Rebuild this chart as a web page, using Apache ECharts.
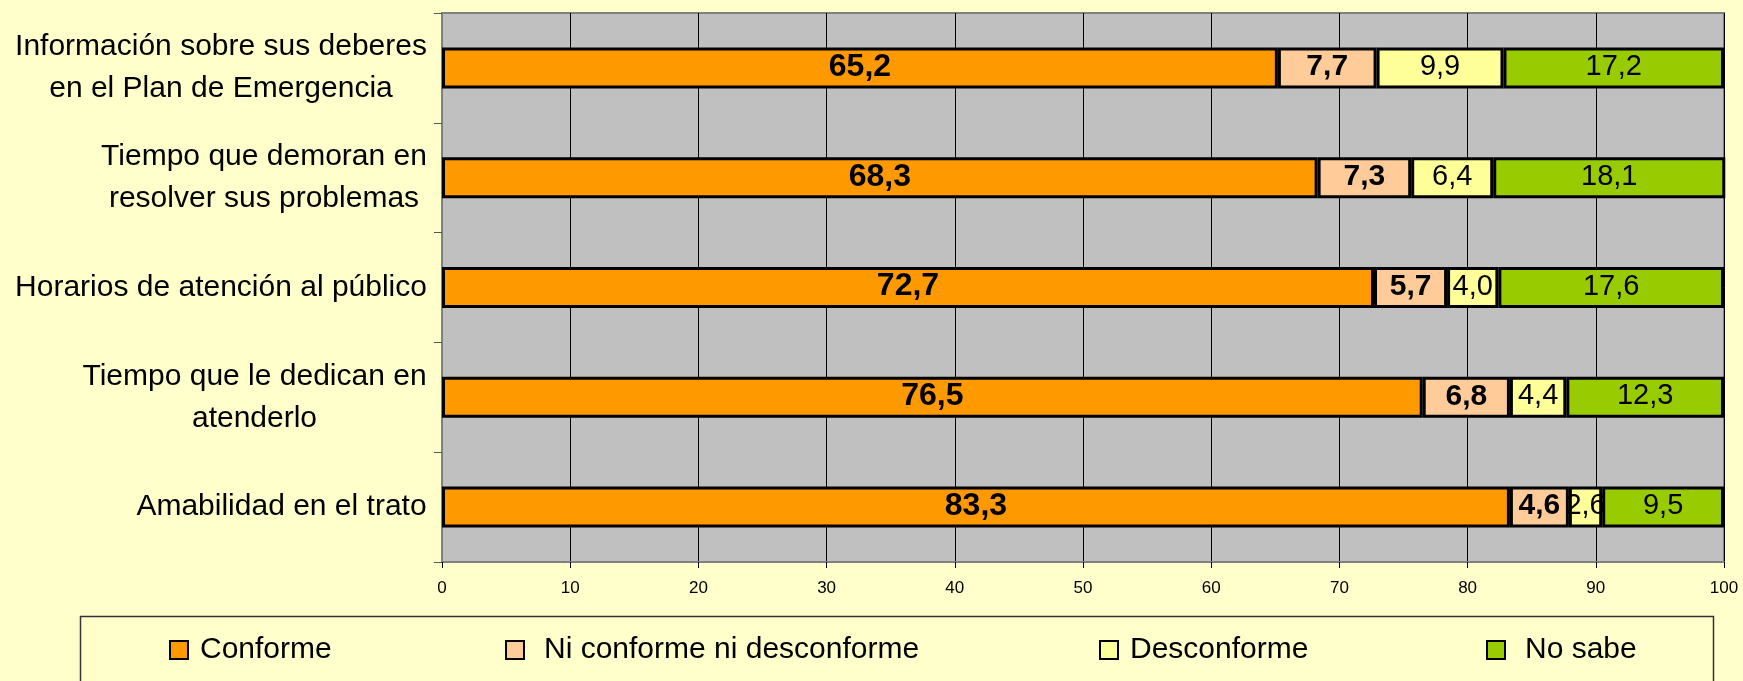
<!DOCTYPE html>
<html>
<head>
<meta charset="utf-8">
<script src="https://cdn.jsdelivr.net/npm/echarts@6/dist/echarts.min.js"></script>
<style>
  html, body { margin: 0; padding: 0; background: #FFFFCC; }
  #chart { width: 1743px; height: 681px; }
</style>
</head>
<body>
<div id="chart"></div>
<script>
// datos (de arriba hacia abajo)
var categorias = [
    'Información sobre sus deberes\nen el Plan de Emergencia',
    'Tiempo que demoran en\nresolver sus problemas',
    'Horarios de atención al público',
    'Tiempo que le dedican en\natenderlo',
    'Amabilidad en el trato'
];
var serieNombres = ['Conforme', 'Ni conforme ni desconforme', 'Desconforme', 'No sabe'];
var conforme      = [65.2, 68.3, 72.7, 76.5, 83.3];
var niConforme    = [7.7, 7.3, 5.7, 6.8, 4.6];
var desconforme   = [9.9, 6.4, 4.0, 4.4, 2.6];
var noSabe        = [17.2, 18.1, 17.6, 12.3, 9.5];
var ejeX = [0, 100, 10];   // min, max, intervalo

var FONT = '"Liberation Sans", Arial, sans-serif';
var colores = ['#FF9900', '#FFCC99', '#FFFF99', '#99CC00'];
var negrita = ['bold', 'bold', 'normal', 'normal'];
var tamLetra = [32, 30, 29, 29];
var capas = [2, 2, 3, 2];   // "2,6" se dibuja encima del verde
var valores = [conforme, niConforme, desconforme, noSabe];

// ancho de cada etiqueta (para centrar las lineas como en el original)
var ctx = document.createElement('canvas').getContext('2d');
ctx.font = '30px ' + FONT;
var rich = {};
categorias.forEach(function (c, i) {
    var w = 0;
    c.split('\n').forEach(function (l) { w = Math.max(w, ctx.measureText(l).width); });
    rich['r' + i] = {
        width: Math.ceil(w), align: 'center',
        fontSize: 30, lineHeight: 42, color: '#000', fontFamily: FONT
    };
});

var chart = echarts.init(document.getElementById('chart'));

var series = serieNombres.map(function (n, k) {
    return {
        name: n,
        type: 'bar',
        stack: 'total',
        barWidth: 41,
        z: capas[k],
        data: valores[k],
        itemStyle: { color: colores[k], borderColor: '#000', borderWidth: 3 },
        emphasis: { disabled: true },
        label: {
            show: true,
            position: 'inside',
            offset: [0, -1],
            color: '#000',
            fontFamily: FONT,
            fontSize: tamLetra[k],
            fontWeight: negrita[k],
            textBorderWidth: 0,
            formatter: function (p) { return p.value.toFixed(1).replace('.', ','); }
        }
    };
});

// una leyenda por serie para respetar las separaciones del original
var legendX = [169, 505, 1099, 1486];
var legendPad = [7, 15, 7, 15];
var legends = serieNombres.map(function (n, k) {
    return {
        data: [n],
        left: legendX[k],
        top: 634,
        padding: 0,
        icon: 'rect',
        itemWidth: 18,
        itemHeight: 18,
        itemStyle: { borderColor: '#000', borderWidth: 2 },
        selectedMode: false,
        textStyle: {
            fontFamily: FONT, fontSize: 30, color: '#000',
            lineHeight: 32, padding: [0, 0, 0, legendPad[k]]
        }
    };
});

var option = {
    backgroundColor: '#FFFFCC',
    animation: false,
    grid: {
        left: 442, right: 19, top: 13, bottom: 119,
        show: true,
        backgroundColor: '#C0C0C0',
        borderColor: '#808080',
        borderWidth: 2,
        outerBoundsMode: 'none'
    },
    legend: legends,
    xAxis: {
        type: 'value',
        min: ejeX[0], max: ejeX[1], interval: ejeX[2],
        axisLine: { show: true, lineStyle: { color: '#808080', width: 2 } },
        axisTick: { show: true, length: 6, lineStyle: { color: '#000' } },
        splitLine: { show: true, lineStyle: { color: '#000', width: 1 } },
        axisLabel: { color: '#000', fontFamily: FONT, fontSize: 17, margin: 18 }
    },
    yAxis: {
        type: 'category',
        inverse: true,
        data: categorias,
        axisLine: { show: true, lineStyle: { color: '#808080', width: 2 } },
        axisTick: { show: true, length: 8, lineStyle: { color: '#555' } },
        splitLine: { show: false },
        axisLabel: {
            margin: 15,
            rich: rich,
            formatter: function (v, i) {
                return v.split('\n').map(function (l) { return '{r' + i + '|' + l + '}'; }).join('\n');
            }
        }
    },
    graphic: [{
        type: 'rect',
        shape: { x: 80.5, y: 616.5, width: 1633, height: 100 },
        style: { fill: 'none', stroke: '#333', lineWidth: 1.5 },
        silent: true
    }],
    series: series
};

chart.setOption(option);
</script>
</body>
</html>
